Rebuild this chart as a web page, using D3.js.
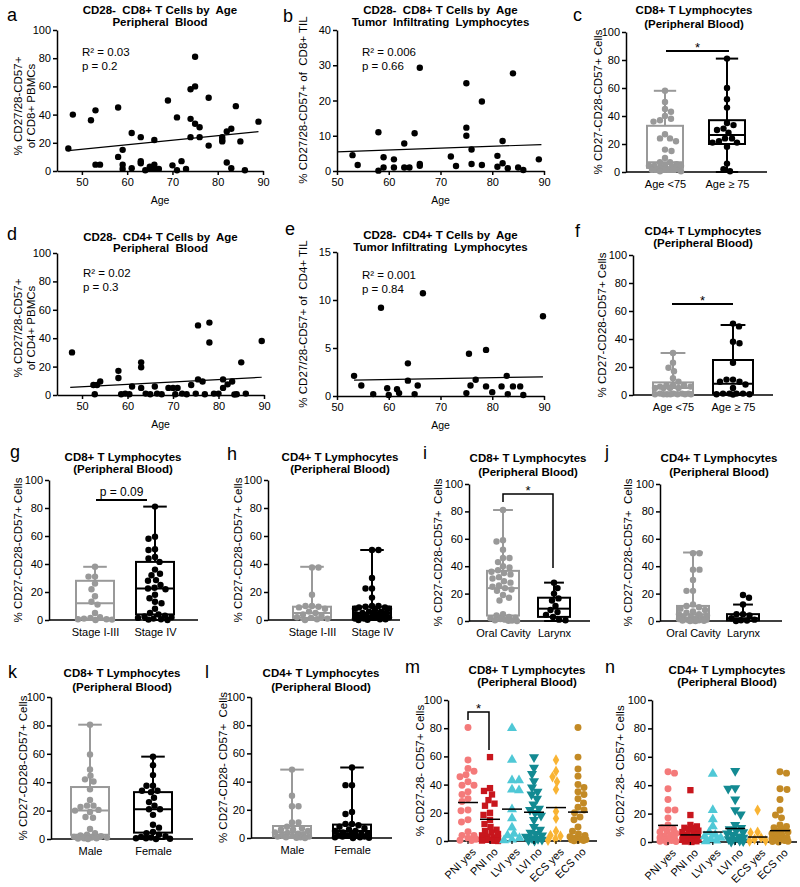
<!DOCTYPE html>
<html><head><meta charset="utf-8">
<script src="https://cdn.jsdelivr.net/npm/d3@7"></script>
<style>
body{margin:0;background:#fff}
svg text{font-family:"Liberation Sans",Arial,Helvetica,sans-serif;}
</style></head><body>
<svg id="chart" width="800" height="887"></svg>
<script>
// ---------------- DATA ----------------
// a: CD8+ PBMC by age
const ageA=[47,48,52,53,53,54,58,58,59,59,59,61,61,63,63,63,64,65,65,66,66,66,67,69,70,71,71,72,73,74,74,74,75,75,75,76,76,78,78,81,81,81,82,82,83,83,84,85,86,89];
const valA=[16,40,36,43,4.5,4.5,45,10,15,4.5,1.5,27,2,24,7,5.5,0.5,3,2,4.5,22,1.5,1.5,50,4,38,0.5,7,1.5,58,37,24,81,60,33.5,31,24,52,18,24,22,21,28,6,30,2,46,21,0.5,35];
const fitA=[[47,14.4],[89,27.9]];
const statA=["0.03","0.2"];
// b: CD8+ TIL by age
const ageB=[53,54,58,58,59,59,61,61,63,63,64,65,66,66,66,72,73,75,75,75,76,76,78,78,81,81,82,82,83,84,85,86,89];
const valB=[4.5,1.7,11,0.1,3.9,1,3.3,1,7.8,1,1,10.7,29.3,2,1.5,4.1,1.4,24.9,12.3,10,6.1,2,19.7,1.7,4.3,1.2,8.5,2.2,0.8,27.7,1,0.3,3.3];
const fitB=[[50,5.4],[89.5,7.5]];
const statB=["0.006","0.66"];
// d: CD4+ PBMC by age
const ageD=[47.8,52.5,53.3,54,52.8,58,58,58.6,59.5,60.4,61,63,63,63,64,65,66,66.5,67.5,69,70,71,70.5,72,73,74,75,75.5,75.5,76.5,77,78,78,79,80,81,81,82,83,83.5,84,85,86,89.5];
const valD=[30,7,7,9.5,0.5,17,12,0.5,1,0.5,6,23,19.5,5,1,0.5,6,1,0.5,5,5,5,0.5,1,0.5,7,1,49,11,9.5,0.5,51,37,1,1,11,5,7.5,9.5,0.3,0.5,23,1,38];
const fitD=[[47.4,5.3],[89.5,12.5]];
const statD=["0.02","0.3"];
// e: CD4+ TIL by age
const ageE=[53.3,54.7,57,58.5,59.7,60,61.6,62,63.7,63.7,65,65.6,66.6,75,75.5,75.8,76.8,78.8,78.8,80,81.8,82.8,83,84,85.4,86,89.8];
const valE=[2.1,1.1,0.2,9.2,0.8,0.1,0.7,0.3,3.4,1.6,0.2,1.1,10.7,0.3,4.4,1.1,1.7,4.8,1,0.4,1,2.1,0.2,1,1,0.1,8.3];
const fitE=[[53.3,1.65],[89.8,2.0]];
const statE=["0.001","0.84"];
const ageCut=75;

const ageCats=["Age <75","Age \u2265 75"];
const stageCats=["Stage I-III","Stage IV"];
const siteCats=["Oral Cavity","Larynx"];
const sexCats=["Male","Female"];
const pathCats=["PNI yes","PNI no","LVI yes","LVI no","ECS yes","ECS no"];

// box stats [min,q1,median,q3,max]
const statsC=[[0,3,7,33,58],[0,20,26.5,37,81]];
const statsF=[[0,1,5,9,30],[0,1,8,25,50]];
const statsG=[[0,1,12,28,38],[0,4,22.5,41.5,81]];
const statsH=[[0,1.5,5,9.5,38],[0,1,5,9.5,50]];
const statsI=[[0,4,24,36.6,81],[0,3,9,17,28]];
const statsJ=[[0,1.5,5,11,50],[0,0.5,2,5,12]];
const statsK=[[0,3,20,36.6,80.5],[0,4.5,21,33,58]];
const statsL=[[0,1,4,8.5,48.5],[0,1,5,9.5,50]];

const stage3G=[38,31,31,26,22,17,13,11,5,2,1.5,1,0.5,0.5,0.3,0];
const stage4G=[81,59.5,58,50.5,50,45,44,41.5,36,33,32,28.5,28,25,23,22.5,22,18,15.5,13,12,8,5,4,3,2.5,2,1.5,1,0.5,0.3,0];
const stage3H=[37.5,37.5,18,10,10,9.5,9,8,6,5,4,3,2,1.5,1,0.5,0];
const stage4H=[50,50,30,22.5,22.5,16,10,10,9.5,9,9,8,8,7,6,6,5,5,4,4,3,3,2.5,2,2,1.5,1.5,1,1,0.5,0.5,0.2,0];
const oralI=[81,59,58,52,46,46,43,40,39,37,36,35,34,32,31,29,28,26,25,24,23,22,19,17,15,5,4,3,2.5,2,1.5,1,0.5,0.3,0.2,0];
const larynxI=[28,24,20,16.5,15,11,8,6.5,4.5,3,1,0.5];
const oralJ=[49.5,49.5,37.5,37.5,30,22,22,12,11,10,9,8,7,6,5,5,4,3,3,2,2,1.5,1,1,0.5,0.5,0.3,0.2,0,0];
const larynxJ=[19,17,12,5,5,4,2,1,0.5,0.3,0];
const maleK=[80.5,59.5,49,44.5,42,40.5,35,27.5,23.5,23.5,22.5,20.5,20,19,15.5,15,7,4,3,2.5,2,1.5,1,1,0.5,0.5,0.3,0];
const femaleK=[58,52,45,37.5,37.5,34,34,33,29,26,23.5,21,21,17,10,8,5,4,3,2,1.5,1,0.5,0.5,0.2,0];
const maleL=[48.5,30,22.5,22.5,11,11,8,7,6,6,5,4,3.5,3,2.5,2,1.5,1,1,0.5,0.5,0.2,0];
const femaleL=[50,37.5,37.5,18.5,17,10,10,9,8,7,6,5,5,4,3,3,2.5,2,2,1.5,1,1,0.5,0.5,0.2,0];

// m: CD8+ by pathology
const pniYesM=[80.5,57.5,51.5,49.5,47,45.5,42,39.5,39.5,35,33,30,28,22,21.5,15,13.5,6.5,4,4,2,1.2,0.5,0.3];
const pniNoM=[59.5,37.5,35.5,33,29,26.5,25,20,18.5,15,12,10,8,7,6,5,4,3,2.5,2,1.5,1,0.8,0.5,0.3,0.2,0];
const lviYesM=[80,57.5,43,43,36.5,36,22.5,16,9.5,5,4,2,1,0.5];
const lviNoM=[59.5,52,47.5,42.5,38,35,33,30,26,23,22,20,18,15,10,8,6,5,4,3,2,1.5,1,0.5,0.2];
const ecsYesM=[57.5,49.5,45.5,42,36.5,21,16,7,4,3.5,1.5,0.5];
const ecsNoM=[80.5,59.5,51,46,40,38,35,33,30,27,24,22,20,17,15,10,7,5,4,3,2,1.5,1,0.8,0.5,0.3,0.2];
const meansM=[27.3,15.4,22.6,20.4,23.7,20.5];
// n: CD4+ by pathology
const pniYesN=[49.5,48.5,37.5,30,22.5,22.5,17,12,10,9,8,7,6,5,4,3,2.5,2,1.5,1,0.5,0.3,0];
const pniNoN=[36.5,19,12,11,10,10,9,8,7,6,5,5,4,3,3,2,2,1.5,1,1,0.5,0.3,0];
const lviYesN=[48,22.5,16,11,7,5,4,3,2,1,0.5];
const lviNoN=[50,38,37.5,30,22.5,19.5,12,10,9,8,7,6,5,4,3,2,1.5,1,0.5,0.2];
const ecsYesN=[22.5,7,6.5,3,2,1,0.5];
const ecsNoN=[49.5,48.5,37.5,37,30,22.5,19,17,12,11,10,9,8,7,6,5,4,3,2.5,2,1.5,1,0.5,0.3,0];
const meansN=[11.7,5,7,9.5,3.5,8];

const pathColors=["#f47a7a","#c8161d","#4fc8d6","#138a92","#f9b434","#c38a25"];
const GRAY="#999999";

// ---------------- DRAWING ----------------
const FONT='"Liberation Sans", Arial, Helvetica, sans-serif';
const svg=d3.select("#chart");

function styleAxis(sel){
  sel.attr("font-size",11).attr("font-family",FONT);
  sel.select(".domain").attr("stroke","#000").attr("stroke-width",1.5);
  sel.selectAll(".tick line").attr("stroke","#000").attr("stroke-width",1.5);
  sel.selectAll(".tick text").attr("fill","#000");
}
function letter(ch,x,y){
  svg.append("text").attr("x",x).attr("y",y).attr("font-size",18).text(ch);
}
function title(lines,cx,ys){
  lines.forEach((l,i)=>svg.append("text").attr("x",cx).attr("y",ys[i]).attr("text-anchor","middle")
    .attr("font-size",11.5).attr("font-weight","bold").style("white-space","pre").text(l));
}
function ylabel(lines,xs,cy){
  lines.forEach((l,i)=>svg.append("text").attr("transform",`translate(${xs[i]},${cy}) rotate(-90)`)
    .attr("text-anchor","middle").attr("font-size",11.5).style("white-space","pre").text(l));
}
function swarm(vals,ys,r,maxW){
  const idx=vals.map((v,i)=>i).sort((a,b)=>vals[b]-vals[a]);
  const placed=[],off=new Array(vals.length).fill(0);
  idx.forEach((i,n)=>{
    const y=ys(vals[i]);const sgn=n%2?1:-1;
    let best=0,bestD=-1;
    for(let k=0;k<=maxW*4+1;k++){
      const o=k===0?0:sgn*(k%2?1:-1)*Math.ceil(k/2)*0.5;
      if(Math.abs(o)>maxW)continue;
      let md=Infinity;
      for(const p of placed){const d=Math.hypot(p[0]-o,p[1]-y);if(d<md)md=d;}
      if(md>=2*r){best=o;bestD=Infinity;break;}
      if(md>bestD){bestD=md;best=o;}
    }
    off[i]=best;placed.push([best,y]);
  });
  return off;
}

function scatterPanel(p){
  const x=d3.scaleLinear().domain(p.xDom).range(p.xR);
  const y=d3.scaleLinear().domain(p.yDom).range(p.yR);
  svg.append("g").attr("transform",`translate(0,${p.yR[0]})`)
    .call(d3.axisBottom(x).tickValues(p.xTicks).tickSize(4).tickSizeOuter(0)).call(styleAxis);
  svg.append("g").attr("transform",`translate(${p.xR[0]},0)`)
    .call(d3.axisLeft(y).tickValues(p.yTicks).tickSize(4).tickSizeOuter(0).tickPadding(2)).call(styleAxis);
  svg.append("g").selectAll("circle").data(p.ages).join("circle")
    .attr("cx",d=>x(d)).attr("cy",(d,i)=>y(p.vals[i])).attr("r",3.2).attr("fill","#000");
  svg.append("line").attr("x1",x(p.fit[0][0])).attr("y1",y(p.fit[0][1]))
    .attr("x2",x(p.fit[1][0])).attr("y2",y(p.fit[1][1])).attr("stroke","#000").attr("stroke-width",1.2);
  const cx=(p.xR[0]+p.xR[1])/2;
  svg.append("text").attr("x",cx).attr("y",p.yR[0]+33).attr("text-anchor","middle").attr("font-size",10.5).text("Age");
  svg.append("text").attr("x",p.sx).attr("y",p.sy[0]).attr("font-size",11.5).text("R\u00B2 = "+p.stat[0]);
  svg.append("text").attr("x",p.sx).attr("y",p.sy[1]).attr("font-size",11.5).text("p = "+p.stat[1]);
  letter(p.letter,p.lx,p.ly);
  title(p.title,cx,p.ty);
  ylabel(p.ylab,p.ylx,p.yly);
}

function sig(s,xs,y){
  const g=svg.append("g").attr("stroke","#000").attr("stroke-width",1.5).attr("fill","none");
  if(s.type==="bar"){
    g.append("line").attr("x1",s.x1).attr("x2",s.x2).attr("y1",y(s.v)).attr("y2",y(s.v)).attr("stroke-width",2);
  } else {
    g.append("path").attr("d",`M${s.x1},${y(s.vl)}V${y(s.v)}H${s.x2}V${y(s.vr)}`);
  }
  svg.append("text").attr("x",(s.x1+s.x2)/2).attr("y",y(s.v)+(s.label==="*"?1:-4))
    .attr("text-anchor","middle").attr("font-size",s.label==="*"?13:12).text(s.label);
}

function boxPanel(p){
  const y=d3.scaleLinear().domain([0,100]).range([p.y0,p.y100]);
  const x=d3.scalePoint().domain(p.cats).range([p.c1,p.c2]);
  svg.append("g").attr("transform",`translate(${p.x0},0)`)
    .call(d3.axisLeft(y).tickValues([0,20,40,60,80,100]).tickSize(4).tickSizeOuter(0).tickPadding(2)).call(styleAxis);
  svg.append("line").attr("x1",p.x0).attr("x2",p.x1).attr("y1",p.y0).attr("y2",p.y0).attr("stroke","#000").attr("stroke-width",1.5);
  const xa=svg.append("g").attr("transform",`translate(0,${p.y0})`)
    .call(d3.axisBottom(x).tickSize(0).tickPadding(8)).call(styleAxis);
  xa.select(".domain").remove();
  p.groups.forEach((vals,gi)=>{
    const col=gi===0?GRAY:"#000";
    const cx=x(p.cats[gi]);const s=p.stats[gi];
    const cw=p.hw*0.62;
    const g=svg.append("g").attr("stroke",col).attr("stroke-width",2).attr("fill","none");
    g.append("rect").attr("x",cx-p.hw).attr("width",2*p.hw).attr("y",y(s[3])).attr("height",y(s[1])-y(s[3]));
    g.append("line").attr("x1",cx-p.hw).attr("x2",cx+p.hw).attr("y1",y(s[2])).attr("y2",y(s[2]));
    g.append("line").attr("x1",cx).attr("x2",cx).attr("y1",y(s[3])).attr("y2",y(s[4]));
    g.append("line").attr("x1",cx).attr("x2",cx).attr("y1",y(s[1])).attr("y2",y(s[0]));
    g.append("line").attr("x1",cx-cw).attr("x2",cx+cw).attr("y1",y(s[4])).attr("y2",y(s[4]));
    g.append("line").attr("x1",cx-cw).attr("x2",cx+cw).attr("y1",y(s[0])).attr("y2",y(s[0]));
    const off=swarm(vals,y,3.2,p.hw-2);
    svg.append("g").selectAll("circle").data(vals).join("circle")
      .attr("cx",(d,i)=>cx+off[i]).attr("cy",d=>y(d)).attr("r",3.2).attr("fill",col);
  });
  if(p.sig)sig(p.sig,x,y);
  letter(p.letter,p.lx,p.ly);
  title(p.title,(p.tx!==undefined?p.tx:(p.x0+p.x1)/2),p.ty);
  ylabel([p.ylab],[p.ylx],(p.y0+p.y100)/2);
}

function dotPanel(p){
  const y=d3.scaleLinear().domain([0,100]).range([p.y0,p.y100]);
  const x=d3.scalePoint().domain(pathCats).range([p.c1,p.c2]);
  svg.append("g").attr("transform",`translate(${p.x0},0)`)
    .call(d3.axisLeft(y).tickValues([0,20,40,60,80,100]).tickSize(4).tickSizeOuter(0).tickPadding(2)).call(styleAxis);
  svg.append("line").attr("x1",p.x0).attr("x2",p.x1).attr("y1",p.y0).attr("y2",p.y0).attr("stroke","#000").attr("stroke-width",1.5);
  const shapes=[d3.symbolCircle,d3.symbolSquare,d3.symbolTriangle,d3.symbolTriangle,d3.symbolDiamond,d3.symbolCircle];
  const sizes=[38,40,44,44,36,38];
  p.groups.forEach((vals,gi)=>{
    const cx=x(pathCats[gi]);
    const off=swarm(vals,y,3.3,8);
    const sym=d3.symbol().type(shapes[gi]).size(sizes[gi]);
    svg.append("g").selectAll("path").data(vals).join("path")
      .attr("d",sym).attr("fill",pathColors[gi])
      .attr("transform",(d,i)=>`translate(${cx+off[i]},${y(d)})${gi===3?" rotate(180)":""}`);
    svg.append("line").attr("x1",cx-10).attr("x2",cx+10).attr("y1",y(p.means[gi])).attr("y2",y(p.means[gi]))
      .attr("stroke","#000").attr("stroke-width",1.5);
    svg.append("line").attr("x1",cx).attr("x2",cx).attr("y1",p.y0).attr("y2",p.y0+3).attr("stroke","#000").attr("stroke-width",1.2);
    svg.append("text").attr("transform",`translate(${cx+3},${p.y0+6}) rotate(-45)`)
      .attr("text-anchor","end").attr("dy","0.71em").attr("font-size",11).text(pathCats[gi]);
  });
  if(p.sig)sig(p.sig,x,y);
  letter(p.letter,p.lx,p.ly);
  title(p.title,p.tx,p.ty);
  ylabel([p.ylab],[p.ylx],(p.y0+p.y100)/2);
}

// ---- row 1/2 scatter ----
scatterPanel({letter:"a",lx:7,ly:21,title:["CD28-  CD8+ T Cells by  Age","Peripheral  Blood"],ty:[14,26],
  xDom:[44.5,90],xR:[57,263],xTicks:[50,60,70,80,90],yDom:[0,100],yR:[171,30],yTicks:[0,20,40,60,80,100],
  ages:ageA,vals:valA,fit:fitA,stat:statA,sx:82,sy:[56,70],ylab:["% CD27/28-CD57+","of CD8+ PBMCs"],ylx:[22,35],yly:106});
scatterPanel({letter:"b",lx:283,ly:22,title:["CD28-  CD8+ T Cells by  Age","Tumor  Infiltrating  Lymphocytes"],ty:[14,26],
  xDom:[50,90],xR:[337,544],xTicks:[50,60,70,80,90],yDom:[0,40],yR:[171,30],yTicks:[0,10,20,30,40],
  ages:ageB,vals:valB,fit:fitB,stat:statB,sx:362,sy:[56,70],ylab:["% CD27/28-CD57+ of  CD8+ TIL"],ylx:[307],yly:100});
scatterPanel({letter:"d",lx:7,ly:240,title:["CD28-  CD4+ T Cells by  Age","Peripheral  Blood"],ty:[241,252],
  xDom:[44.5,90],xR:[57,264],xTicks:[50,60,70,80,90],yDom:[0,100],yR:[395,253],yTicks:[0,20,40,60,80,100],
  ages:ageD,vals:valD,fit:fitD,stat:statD,sx:83,sy:[277,291],ylab:["% CD27/28-CD57+","of CD4+ PBMCs"],ylx:[22,35],yly:328});
scatterPanel({letter:"e",lx:285,ly:235,title:["CD28-  CD4+ T Cells by  Age","Tumor Infiltrating  Lymphocytes"],ty:[239,251],
  xDom:[50,90],xR:[337,544],xTicks:[50,60,70,80,90],yDom:[0,15],yR:[396,252],yTicks:[0,5,10,15],
  ages:ageE,vals:valE,fit:fitE,stat:statE,sx:362,sy:[279,293],ylab:["% CD27/28-CD57+ of  CD4+ TIL"],ylx:[307],yly:324});

// ---- box panels ----
const under=(ages,vals,lt)=>vals.filter((v,i)=>lt?ages[i]<ageCut:ages[i]>=ageCut);
const tCD8=["CD8+ T Lymphocytes","(Peripheral Blood)"],tCD4=["CD4+ T Lymphocytes","(Peripheral Blood)"];
const yl1="% CD27-CD28-CD57+ Cells";
boxPanel({letter:"c",lx:573,ly:21,title:tCD8,tx:694,ty:[14,28],x0:626,x1:767,c1:665,c2:727,y0:172,y100:32,hw:18,
  cats:ageCats,groups:[under(ageA,valA,true),under(ageA,valA,false)],stats:statsC,ylab:yl1,ylx:602,
  sig:{type:"bar",x1:666,x2:729,v:86.4,label:"*"}});
boxPanel({letter:"f",lx:575,ly:237,title:tCD4,tx:703,ty:[235,247],x0:633,x1:773,c1:673,c2:733,y0:395,y100:255,hw:20,
  cats:ageCats,groups:[under(ageD,valD,true),under(ageD,valD,false)],stats:statsF,ylab:yl1,ylx:606,
  sig:{type:"bar",x1:672,x2:733,v:65,label:"*"}});
boxPanel({letter:"g",lx:10,ly:458,title:tCD8,tx:123,ty:[461,473],x0:49,x1:198,c1:95,c2:155,y0:620,y100:480,hw:19,
  cats:stageCats,groups:[stage3G,stage4G],stats:statsG,ylab:yl1,ylx:22,
  sig:{type:"bar",x1:96,x2:147,v:85.7,label:"p = 0.09"}});
boxPanel({letter:"h",lx:227,ly:460,title:tCD4,tx:340,ty:[461,473],x0:268,x1:400,c1:312,c2:372,y0:620,y100:480,hw:19,
  cats:stageCats,groups:[stage3H,stage4H],stats:statsH,ylab:yl1,ylx:242});
boxPanel({letter:"i",lx:423,ly:459,title:tCD8,tx:528,ty:[462,476],x0:469,x1:590,c1:503,c2:554,y0:621,y100:484,hw:16,
  cats:siteCats,groups:[oralI,larynxI],stats:statsI,ylab:"% CD27-CD28-CD57+  Cells",ylx:442,
  sig:{type:"bracket",x1:503,x2:553,v:92.7,vl:86.9,vr:38.7,label:"*"}});
boxPanel({letter:"j",lx:605,ly:458,title:tCD4,tx:719,ty:[462,476],x0:660,x1:782,c1:693,c2:743,y0:621,y100:484,hw:16,
  cats:siteCats,groups:[oralJ,larynxJ],stats:statsJ,ylab:"% CD27-CD28-CD57+  Cells",ylx:632});
boxPanel({letter:"k",lx:8,ly:678,title:tCD8,tx:122,ty:[677,691],x0:51,x1:193,c1:90,c2:153,y0:839,y100:697,hw:19,
  cats:sexCats,groups:[maleK,femaleK],stats:statsK,ylab:yl1,ylx:27});
boxPanel({letter:"l",lx:205,ly:678,title:tCD4,tx:321,ty:[677,691],x0:251,x1:392,c1:292,c2:352,y0:838,y100:697,hw:19,
  cats:sexCats,groups:[maleL,femaleL],stats:statsL,ylab:"% CD27-CD28- CD57+  Cells",ylx:227});

// ---- dot panels ----
dotPanel({letter:"m",lx:405,ly:673,title:tCD8,tx:527,ty:[674,686],x0:448,x1:597,c1:468,c2:578,y0:841,y100:700,
  groups:[pniYesM,pniNoM,lviYesM,lviNoM,ecsYesM,ecsNoM],means:meansM,ylab:"% CD27-28- CD57+ Cells",ylx:424,
  sig:{type:"bracket",x1:468,x2:489,v:91.5,vl:85.8,vr:64.5,label:"*"}});
dotPanel({letter:"n",lx:605,ly:673,title:tCD4,tx:727,ty:[674,686],x0:652,x1:797,c1:668,c2:780,y0:842,y100:700,
  groups:[pniYesN,pniNoN,lviYesN,lviNoN,ecsYesN,ecsNoN],means:meansN,ylab:"% CD27-28- CD57+ Cells",ylx:624});
</script>
</body></html>
